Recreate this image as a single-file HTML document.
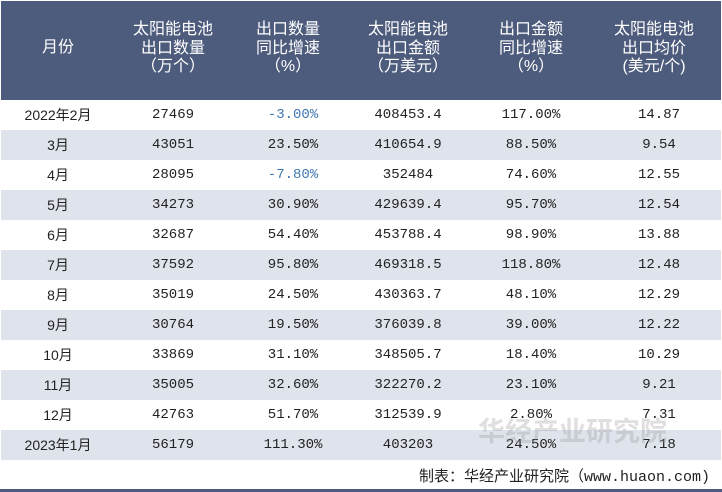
<!DOCTYPE html>
<html><head><meta charset="utf-8"><style>
body{margin:0;width:722px;height:492px;background:#fff;position:relative;overflow:hidden;font-family:"Liberation Mono","Noto Sans CJK SC",monospace;}
.hdr{position:absolute;left:1px;top:1px;width:720px;height:99px;background:#4d5b7c;}
.h{position:absolute;top:20px;color:#fff;font-family:"Liberation Sans","Noto Sans CJK SC",sans-serif;font-size:16px;line-height:18.5px;text-align:center;transform:translateX(-50%);white-space:nowrap;}
.row{position:absolute;left:1px;width:720px;height:30px;}
.c{position:absolute;top:0;line-height:30px;font-size:14px;color:#222;transform:translateX(-50%);white-space:nowrap;}
.neg{color:#3f78b0;}
.foot{position:absolute;right:12px;top:465px;font-size:15px;color:#222;}
.bl{position:absolute;left:0;top:489px;width:722px;height:3px;background:#4d5b7c;}
.wm{position:absolute;left:478px;top:410px;font-family:"Noto Sans CJK SC",sans-serif;font-size:27px;color:rgba(150,150,150,0.3);font-weight:bold;}
</style></head><body>
<div class="hdr">
<div class="h" style="left:57px;top:38px">月份</div>
<div class="h" style="left:172px">太阳能电池<br>出口数量<br>（万个）</div>
<div class="h" style="left:287px">出口数量<br>同比增速<br>（%）</div>
<div class="h" style="left:407px">太阳能电池<br>出口金额<br>（万美元）</div>
<div class="h" style="left:530px">出口金额<br>同比增速<br>（%）</div>
<div class="h" style="left:653px">太阳能电池<br>出口均价<br>(美元/个)</div>
</div>
<div id="rows"></div>
<div class="wm">华经产业研究院</div>
<div class="foot">制表：华经产业研究院（www.huaon.com)</div>
<div class="bl"></div>
<script>
const months=["2022年2月","3月","4月","5月","6月","7月","8月","9月","10月","11月","12月","2023年1月"];
const qty=["27469","43051","28095","34273","32687","37592","35019","30764","33869","35005","42763","56179"];
const qtyYoy=["-3.00%","23.50%","-7.80%","30.90%","54.40%","95.80%","24.50%","19.50%","31.10%","32.60%","51.70%","111.30%"];
const amt=["408453.4","410654.9","352484","429639.4","453788.4","469318.5","430363.7","376039.8","348505.7","322270.2","312539.9","403203"];
const amtYoy=["117.00%","88.50%","74.60%","95.70%","98.90%","118.80%","48.10%","39.00%","18.40%","23.10%","2.80%","24.50%"];
const price=["14.87","9.54","12.55","12.54","13.88","12.48","12.29","12.22","10.29","9.21","7.31","7.18"];
const xs=[57,172,292,407,530,658];
const wrap=document.getElementById('rows');
months.forEach((m,i)=>{
 const r=document.createElement('div');
 r.className='row';
 r.style.top=(100+i*30)+'px';
 r.style.background=i%2?'#dfe3ec':'#fff';
 
 
 [m,qty[i],qtyYoy[i],amt[i],amtYoy[i],price[i]].forEach((v,j)=>{
  const c=document.createElement('div');
  c.className='c'+(v.startsWith('-')?' neg':'');
  c.style.left=xs[j]+'px';
  if(j===0)c.style.fontFamily='"Liberation Sans","Noto Sans CJK SC",sans-serif';
  c.textContent=v;
  
  
  r.appendChild(c);
 });
 wrap.appendChild(r);
});
</script>
</body></html>
